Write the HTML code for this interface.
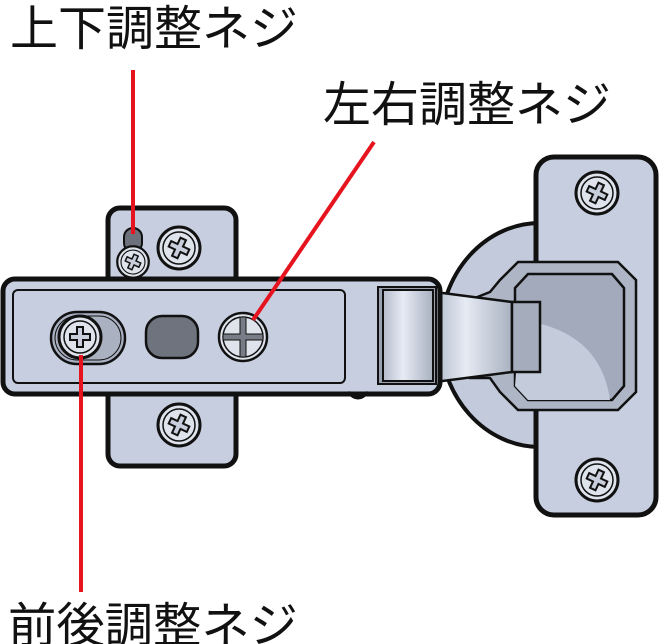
<!DOCTYPE html>
<html><head><meta charset="utf-8"><style>
html,body{margin:0;padding:0;background:#fff;width:660px;height:644px;overflow:hidden}
svg{display:block}
.t{font-family:"Liberation Sans","Noto Sans CJK JP",sans-serif;font-size:48px;fill:#111;font-weight:400}
</style></head><body>
<svg width="660" height="644" viewBox="0 0 660 644" xmlns="http://www.w3.org/2000/svg">
<defs>
<linearGradient id="kn" x1="0" x2="1" y1="0" y2="0">
<stop offset="0" stop-color="#b4bccb"/><stop offset="0.4" stop-color="#e6ebf4"/><stop offset="1" stop-color="#a9b1c0"/>
</linearGradient>
<g id="sc">
<circle r="21" fill="#dfe3ec" stroke="#111" stroke-width="3"/>
<circle r="16" fill="none" stroke="#111" stroke-width="1.5"/>
<path d="M-3,-10 h6 v7 h7 v6 h-7 v7 h-6 v-7 h-7 v-6 h7z" fill="#c8cedb" stroke="#111" stroke-width="2" transform="rotate(25)"/>
</g>
</defs>
<text class="t" x="10" y="45" textLength="288" lengthAdjust="spacingAndGlyphs">上下調整ネジ</text>
<text class="t" x="323" y="121" textLength="288" lengthAdjust="spacingAndGlyphs">左右調整ネジ</text>
<text class="t" x="8" y="642" textLength="290" lengthAdjust="spacingAndGlyphs">前後調整ネジ</text>

<ellipse cx="540" cy="335" rx="100" ry="112" fill="#c3cadb" stroke="#111" stroke-width="4"/>
<rect x="536" y="157" width="120" height="358" rx="18" fill="#c6cee0" stroke="#111" stroke-width="5"/>
<use href="#sc" x="597" y="193"/>
<use href="#sc" x="597" y="480"/>
<path d="M518,262 L618,262 L636,280 L636,392 L618,410 L518,410 L500,392 L490,378 L470,378 L470,300 L490,292 L500,280Z" fill="#aeb6c6" stroke="#111" stroke-width="2.5"/>
<path d="M528,274 L612,274 L624,288 L624,386 L612,400 L528,400 L515,386 L515,288Z" fill="#a2aabb" stroke="#111" stroke-width="2.5"/>
<path d="M520,320 Q600,330 610,400 L528,400 L515,386Z" fill="#c4cbdb"/>
<path d="M435,292 L512,302 L512,372 L435,382Z" fill="url(#kn)" stroke="#111" stroke-width="2.5"/>
<rect x="512" y="302" width="28" height="70" fill="#a5adbd" stroke="#111" stroke-width="2.5"/>

<rect x="108" y="208" width="128" height="90" rx="12" fill="#c6cee0" stroke="#111" stroke-width="5"/>
<rect x="108" y="378" width="128" height="88" rx="12" fill="#c6cee0" stroke="#111" stroke-width="5"/>
<rect x="3" y="279" width="437" height="115" rx="12" fill="#c6cee0" stroke="#111" stroke-width="5"/>
<rect x="13" y="290" width="332" height="93" rx="5" fill="#c6cee0" stroke="#111" stroke-width="2"/>
<path d="M348,392 q10,12 20,0" fill="none" stroke="#111" stroke-width="3"/>
<rect x="378" y="287" width="58" height="97" fill="#9aa2b2" stroke="#111" stroke-width="2"/>
<rect x="383" y="290" width="50" height="91" fill="url(#kn)" stroke="#111" stroke-width="2"/>

<rect x="124" y="228" width="18" height="24" rx="9" fill="#6c717c" stroke="#111" stroke-width="2"/>
<g transform="translate(133,262) scale(0.75)"><use href="#sc"/></g>
<use href="#sc" x="179" y="248"/>
<use href="#sc" x="179" y="425"/>
<rect x="51" y="312" width="74" height="52" rx="26" fill="#a9b1c2" stroke="#111" stroke-width="2.5"/>
<rect x="55" y="316" width="66" height="44" rx="22" fill="#aab1c1" stroke="#111" stroke-width="1"/>
<g transform="translate(80,337)">
<circle r="21" fill="#dfe3ec" stroke="#111" stroke-width="3"/>
<circle r="16" fill="none" stroke="#111" stroke-width="1.5"/>
<path d="M-3,-10 h6 v7 h7 v6 h-7 v7 h-6 v-7 h-7 v-6 h7z" fill="#c8cedb" stroke="#111" stroke-width="2"/>
</g>
<rect x="146" y="316" width="52" height="42" rx="16" fill="#6e737e" stroke="#111" stroke-width="2.5"/>
<circle cx="243" cy="337" r="24" fill="#dfe3ec" stroke="#111" stroke-width="2.5"/>
<circle cx="243" cy="337" r="20" fill="#dfe3ec" stroke="#111" stroke-width="1.5"/>
<path d="M240,317 h6 v17 h17 v6 h-17 v17 h-6 v-17 h-17 v-6 h17z" fill="#777c87" stroke="#111" stroke-width="1"/>

<line x1="133" y1="70" x2="133" y2="234" stroke="#e5141e" stroke-width="4"/>
<line x1="374" y1="142" x2="253" y2="320" stroke="#e5141e" stroke-width="4"/>
<line x1="81" y1="355" x2="81" y2="592" stroke="#e5141e" stroke-width="4"/>
</svg>
</body></html>
